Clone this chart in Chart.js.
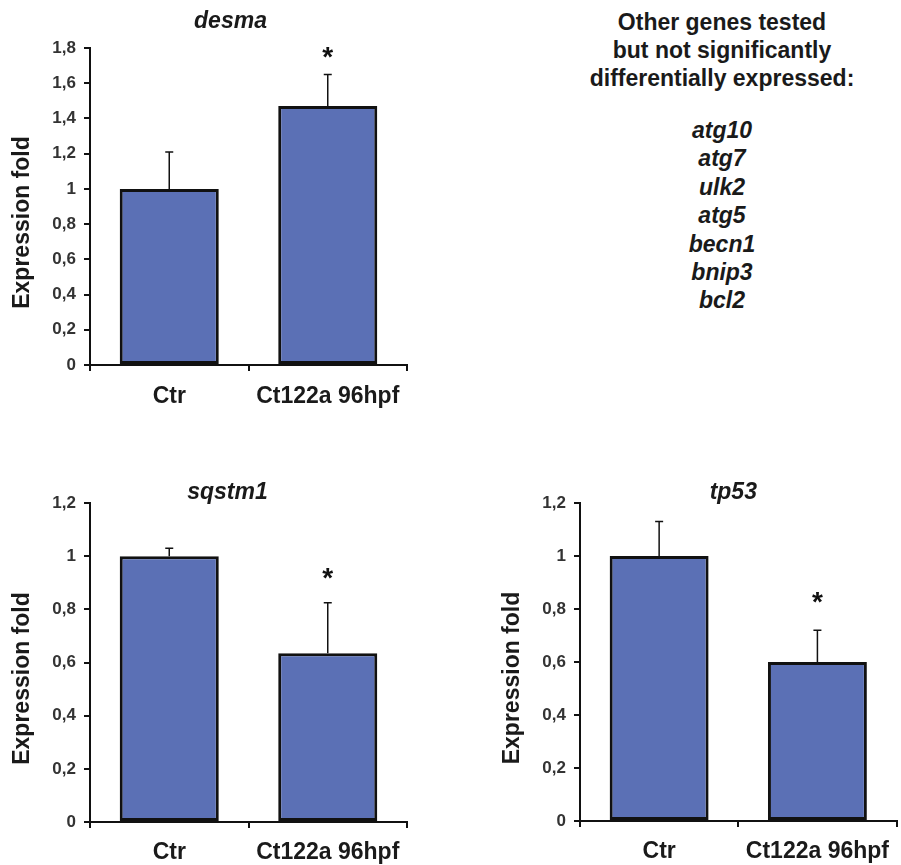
<!DOCTYPE html>
<html>
<head>
<meta charset="utf-8">
<script src="https://cdn.jsdelivr.net/npm/chart.js@4"></script>
<style>
  body { margin: 0; background: #fff; }
  #page { position: relative; width: 901px; height: 865px; overflow: hidden; background: #fff; }
  canvas { position: absolute; }
  #others {
    position: absolute; left: 562px; top: 8px; width: 320px;
    text-align: center; font-family: 'Liberation Sans', Arial, sans-serif;
    font-weight: bold; font-size: 23px; line-height: 28px; color: #1a1a1a;
  }
  #others .genes { margin-top: 24px; font-style: italic; line-height: 28.4px; }
</style>
</head>
<body>
<div id="page">
  <canvas id="desma" width="420" height="420" style="left:0;top:0"></canvas>
  <canvas id="sqstm1" width="420" height="405" style="left:0;top:460px"></canvas>
  <canvas id="tp53" width="451" height="405" style="left:450px;top:460px"></canvas>
  <div id="others"></div>
</div>
<script>
// Data
const categories = ['Ctr', 'Ct122a 96hpf'];
const significant = [false, true];

const desmaValues = [1.0, 1.47];
const desmaErrors = [0.21, 0.18];
const sqstm1Values = [1.0, 0.635];
const sqstm1Errors = [0.03, 0.19];
const tp53Values = [1.0, 0.60];
const tp53Errors = [0.13, 0.12];

const desmaMax = 1.8;
const smallMax = 1.2;
const tickStep = 0.2;

const yTitle = 'Expression fold';
const otherHeader = ['Other genes tested', 'but not significantly', 'differentially expressed:'];
const otherGenes = ['atg10', 'atg7', 'ulk2', 'atg5', 'becn1', 'bnip3', 'bcl2'];

const fontFamily = "'Liberation Sans', Arial, sans-serif";
const tickFamily = "'Liberation Sans Narrow', 'Liberation Sans', Arial, sans-serif";
const barColor = '#5b70b5';

// error bars, asterisks, italic panel title and the y title
const barExtras = {
    id: 'barExtras',
    afterDatasetsDraw(chart, args, opts) {
        const ctx = chart.ctx;
        const yScale = chart.scales.y;
        const meta = chart.getDatasetMeta(0);
        const vals = chart.data.datasets[0].data;
        ctx.save();
        ctx.strokeStyle = '#111';
        ctx.lineWidth = 1.5;
        meta.data.forEach((bar, i) => {
            const yBar = yScale.getPixelForValue(vals[i]);
            const yTop = yScale.getPixelForValue(vals[i] + opts.errors[i]);
            ctx.beginPath();
            ctx.moveTo(bar.x, yBar);
            ctx.lineTo(bar.x, yTop);
            ctx.moveTo(bar.x - 4, yTop);
            ctx.lineTo(bar.x + 4, yTop);
            ctx.stroke();
            if (significant[i]) {
                ctx.fillStyle = '#111';
                ctx.font = 'bold 28px ' + fontFamily;
                ctx.textAlign = 'center';
                ctx.textBaseline = 'alphabetic';
                ctx.fillText('*', bar.x, yTop - opts.starGap + 16);
            }
        });
        const area = chart.chartArea;
        ctx.fillStyle = '#1a1a1a';
        ctx.textAlign = 'center';
        ctx.textBaseline = 'middle';
        ctx.font = 'italic bold 23px ' + fontFamily;
        ctx.fillText(opts.title, (area.left + area.right) / 2 + opts.titleDx, area.top - opts.titleDy);

        ctx.font = 'bold 23px ' + fontFamily;
        ctx.translate(area.left - 67, (area.top + area.bottom) / 2 + 16);
        ctx.rotate(-Math.PI / 2);
        ctx.fillText(yTitle, 0, 0);
        ctx.restore();
    }
};

function formatTick(value) {
    const v = Math.round(value * 10) / 10;
    return String(v).replace('.', ',');
}

function makeChart(id, values, errors, yMax, cfg) {
    const axisGrid = {
        offset: true,
        drawOnChartArea: false,
        drawTicks: true,
        tickLength: 6,
        color: '#111',
        lineWidth: 2
    };
    return new Chart(document.getElementById(id), {
        type: 'bar',
        data: {
            labels: categories,
            datasets: [{
                data: values,
                backgroundColor: barColor,
                borderColor: '#111',
                borderWidth: 3,
                borderSkipped: false,
                barPercentage: 0.625,
                categoryPercentage: 1
            }]
        },
        options: {
            responsive: false,
            animation: false,
            layout: { padding: { top: cfg.top, right: cfg.right, left: 0, bottom: 0 } },
            plugins: {
                legend: { display: false },
                tooltip: { enabled: false },
                barExtras: {
                    errors: errors,
                    starGap: cfg.starGap,
                    title: cfg.title,
                    titleDx: cfg.titleDx,
                    titleDy: cfg.titleDy
                }
            },
            scales: {
                x: {
                    offset: true,
                    grid: axisGrid,
                    border: { display: true, color: '#111', width: 2 },
                    ticks: {
                        color: '#1a1a1a',
                        padding: cfg.xPad,
                        font: { family: fontFamily, size: 23, weight: 'bold' }
                    },
                    afterFit: function(scale) { scale.height = cfg.xHeight; }
                },
                y: {
                    min: 0,
                    max: yMax,
                    grid: Object.assign({}, axisGrid, { offset: false }),
                    border: { display: true, color: '#111', width: 2 },
                    ticks: {
                        stepSize: tickStep,
                        color: '#333',
                        padding: 8,
                        font: { family: tickFamily, size: 17, weight: 'bold' },
                        callback: formatTick
                    },
                    afterFit: function(scale) { scale.width = cfg.yWidth; }
                }
            }
        },
        plugins: [barExtras]
    });
}

makeChart('desma', desmaValues, desmaErrors, desmaMax,
    { title: 'desma', top: 48, right: 13, yWidth: 90, xHeight: 55, xPad: 12, starGap: 24, titleDx: -18, titleDy: 26 });
makeChart('sqstm1', sqstm1Values, sqstm1Errors, smallMax,
    { title: 'sqstm1', top: 43, right: 13, yWidth: 90, xHeight: 43, xPad: 11, starGap: 32, titleDx: -21, titleDy: 10 });
makeChart('tp53', tp53Values, tp53Errors, smallMax,
    { title: 'tp53', top: 43, right: 4, yWidth: 130, xHeight: 44, xPad: 11, starGap: 35, titleDx: -5, titleDy: 10 });

// text block listing the other genes
const others = document.getElementById('others');
others.innerHTML = otherHeader.join('<br>') +
    '<div class="genes">' + otherGenes.join('<br>') + '</div>';
</script>
</body>
</html>
